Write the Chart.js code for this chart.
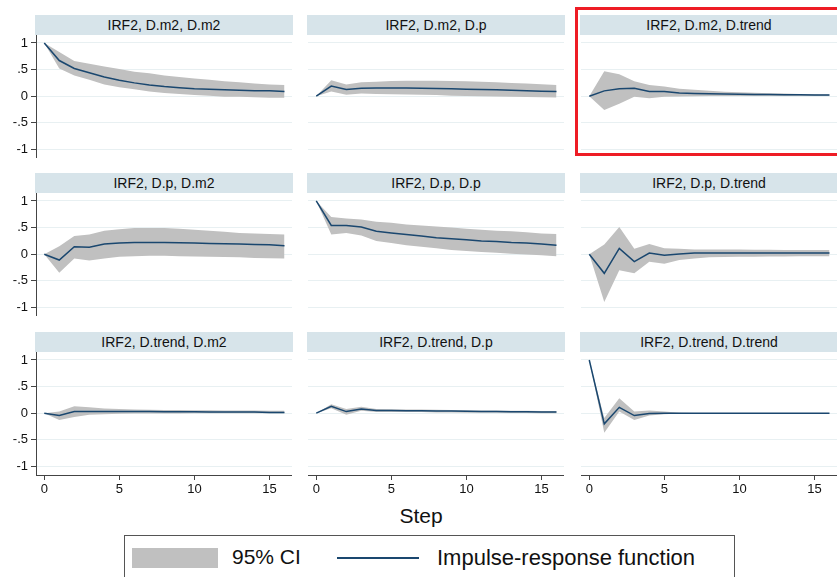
<!DOCTYPE html>
<html>
<head>
<meta charset="utf-8">
<script src="https://cdn.jsdelivr.net/npm/chart.js@4.4.1/dist/chart.umd.min.js"></script>
<style>
  body { margin: 0; width: 837px; height: 577px; overflow: hidden; background: #fff;
         font-family: "Liberation Sans", Arial, sans-serif; color: #111; }
  .panel { position: absolute; }
  .strip { position: absolute; height: 20px; line-height: 20px; background: #d7e4ea;
           text-align: center; font-size: 14px; color: #111; }
  #steplab { position: absolute; left: 0; width: 842px; top: 504px; text-align: center; font-size: 21px; }
  #legend { position: absolute; left: 124px; top: 535px; width: 611px; height: 60px;
            border: 1px solid #555; box-sizing: border-box; }
  #legend .ci { position: absolute; left: 7px; top: 12px; width: 86px; height: 20px; background: #c0c0c0; }
  #legend .t1 { position: absolute; left: 107px; top: 9px; font-size: 21px; }
  #legend .ln { position: absolute; left: 212px; top: 21px; width: 82px; height: 0; border-top: 2px solid #1a476f; }
  #legend .t2 { position: absolute; left: 312px; top: 9px; font-size: 22px; }
  #mark { position: absolute; left: 575px; top: 7px; width: 275px; height: 149px;
          border: 3px solid #ee1c25; box-sizing: border-box; }
</style>
</head>
<body>
<div id="steplab">Step</div>
<div id="legend">
  <div class="ci"></div><div class="t1">95% CI</div>
  <div class="ln"></div><div class="t2">Impulse-response function</div>
</div>
<script>
// horizon steps
const steps = [0, 1, 2, 3, 4, 5, 6, 7, 8, 9, 10, 11, 12, 13, 14, 15, 16];

// impulse D.m2 -> response D.m2
const irf_m2_m2 = [1.00, 0.67, 0.52, 0.44, 0.36, 0.30, 0.25, 0.21, 0.18, 0.16, 0.14, 0.13, 0.12, 0.11, 0.10, 0.10, 0.09];
const hi_m2_m2  = [1.00, 0.83, 0.66, 0.61, 0.56, 0.51, 0.46, 0.43, 0.39, 0.36, 0.33, 0.31, 0.28, 0.26, 0.24, 0.22, 0.21];
const lo_m2_m2  = [1.00, 0.52, 0.39, 0.31, 0.22, 0.17, 0.13, 0.09, 0.06, 0.04, 0.02, 0.01, -0.01, -0.01, -0.02, -0.03, -0.03];

// D.m2 -> D.p
const irf_m2_p = [0, 0.19, 0.125, 0.15, 0.155, 0.155, 0.155, 0.15, 0.145, 0.14, 0.13, 0.125, 0.12, 0.11, 0.10, 0.095, 0.09];
const hi_m2_p  = [0, 0.30, 0.22, 0.26, 0.27, 0.285, 0.29, 0.29, 0.29, 0.285, 0.28, 0.27, 0.26, 0.25, 0.24, 0.225, 0.21];
const lo_m2_p  = [0, 0.09, 0.025, 0.05, 0.04, 0.035, 0.03, 0.025, 0.02, 0.01, 0.005, 0, -0.005, -0.01, -0.015, -0.02, -0.025];

// D.m2 -> D.trend
const irf_m2_tr = [0, 0.10, 0.14, 0.15, 0.09, 0.09, 0.06, 0.05, 0.045, 0.04, 0.035, 0.03, 0.03, 0.025, 0.025, 0.02, 0.02];
const hi_m2_tr  = [0, 0.47, 0.41, 0.28, 0.21, 0.18, 0.14, 0.12, 0.10, 0.085, 0.075, 0.065, 0.055, 0.05, 0.04, 0.035, 0.03];
const lo_m2_tr  = [0, -0.26, -0.14, -0.01, -0.04, -0.01, -0.005, 0, 0.005, 0.005, 0.005, 0.005, 0.005, 0.005, 0.005, 0.005, 0.005];

// D.p -> D.m2
const irf_p_m2 = [0, -0.11, 0.14, 0.13, 0.19, 0.21, 0.22, 0.22, 0.22, 0.215, 0.21, 0.20, 0.195, 0.19, 0.18, 0.175, 0.16];
const hi_p_m2  = [0, 0.15, 0.34, 0.37, 0.44, 0.47, 0.49, 0.49, 0.49, 0.48, 0.46, 0.44, 0.42, 0.40, 0.39, 0.38, 0.37];
const lo_p_m2  = [0, -0.35, -0.08, -0.12, -0.08, -0.05, -0.04, -0.03, -0.03, -0.04, -0.045, -0.05, -0.055, -0.06, -0.07, -0.075, -0.08];

// D.p -> D.p
const irf_p_p = [1.00, 0.54, 0.54, 0.51, 0.43, 0.40, 0.37, 0.34, 0.31, 0.29, 0.27, 0.25, 0.24, 0.22, 0.21, 0.19, 0.17];
const hi_p_p  = [1.00, 0.70, 0.67, 0.65, 0.61, 0.59, 0.56, 0.54, 0.52, 0.50, 0.48, 0.46, 0.44, 0.43, 0.41, 0.39, 0.38];
const lo_p_p  = [1.00, 0.37, 0.40, 0.35, 0.25, 0.21, 0.17, 0.14, 0.11, 0.08, 0.06, 0.04, 0.025, 0.01, -0.005, -0.02, -0.04];

// D.p -> D.trend
const irf_p_tr = [0, -0.36, 0.11, -0.14, 0.02, -0.02, 0.005, 0.02, 0.02, 0.02, 0.02, 0.02, 0.02, 0.02, 0.02, 0.02, 0.02];
const hi_p_tr  = [0, 0.18, 0.51, 0.10, 0.19, 0.11, 0.10, 0.09, 0.09, 0.09, 0.09, 0.085, 0.085, 0.08, 0.08, 0.08, 0.08];
const lo_p_tr  = [0, -0.90, -0.30, -0.36, -0.14, -0.18, -0.11, -0.08, -0.06, -0.055, -0.05, -0.05, -0.045, -0.045, -0.04, -0.04, -0.04];

// D.trend -> D.m2
const irf_tr_m2 = [0, -0.045, 0.03, 0.03, 0.03, 0.03, 0.03, 0.03, 0.025, 0.025, 0.025, 0.02, 0.02, 0.02, 0.02, 0.015, 0.015];
const hi_tr_m2  = [0, 0.03, 0.13, 0.11, 0.09, 0.08, 0.07, 0.065, 0.06, 0.06, 0.055, 0.055, 0.05, 0.05, 0.05, 0.045, 0.045];
const lo_tr_m2  = [0, -0.13, -0.07, -0.03, -0.02, -0.01, -0.005, -0.005, -0.005, -0.005, 0, 0, 0, 0, 0, 0, 0];

// D.trend -> D.p
const irf_tr_p = [0, 0.13, 0.03, 0.08, 0.05, 0.05, 0.045, 0.045, 0.04, 0.04, 0.035, 0.03, 0.03, 0.025, 0.025, 0.02, 0.02];
const hi_tr_p  = [0, 0.17, 0.08, 0.12, 0.08, 0.075, 0.07, 0.07, 0.065, 0.06, 0.055, 0.05, 0.05, 0.045, 0.045, 0.04, 0.04];
const lo_tr_p  = [0, 0.095, -0.03, 0.045, 0.02, 0.02, 0.02, 0.02, 0.015, 0.015, 0.01, 0.01, 0.01, 0.005, 0.005, 0, 0];

// D.trend -> D.trend
const irf_tr_tr = [1.00, -0.20, 0.11, -0.045, -0.005, 0, 0, 0, 0, 0, 0, 0, 0, 0, 0, 0, 0];
const hi_tr_tr  = [1.00, -0.09, 0.28, 0.03, 0.05, 0.03, 0.01, 0.005, 0.004, 0.003, 0.002, 0.002, 0.001, 0.001, 0.001, 0.001, 0.001];
const lo_tr_tr  = [1.00, -0.37, 0.03, -0.13, -0.045, -0.02, -0.005, -0.003, -0.003, -0.002, -0.002, -0.001, -0.001, -0.001, -0.001, -0.001, -0.001];

const yTicks = [-1, -0.5, 0, 0.5, 1];
const yTickLabels = ['-1', '-.5', '0', '.5', '1'];
const xTicks = [0, 5, 10, 15];

const panels = [
  { title: 'IRF2, D.m2, D.m2', irf: irf_m2_m2, hi: hi_m2_m2, lo: lo_m2_m2 },
  { title: 'IRF2, D.m2, D.p', irf: irf_m2_p, hi: hi_m2_p, lo: lo_m2_p },
  { title: 'IRF2, D.m2, D.trend', irf: irf_m2_tr, hi: hi_m2_tr, lo: lo_m2_tr },
  { title: 'IRF2, D.p, D.m2', irf: irf_p_m2, hi: hi_p_m2, lo: lo_p_m2 },
  { title: 'IRF2, D.p, D.p', irf: irf_p_p, hi: hi_p_p, lo: lo_p_p },
  { title: 'IRF2, D.p, D.trend', irf: irf_p_tr, hi: hi_p_tr, lo: lo_p_tr },
  { title: 'IRF2, D.trend, D.m2', irf: irf_tr_m2, hi: hi_tr_m2, lo: lo_tr_m2 },
  { title: 'IRF2, D.trend, D.p', irf: irf_tr_p, hi: hi_tr_p, lo: lo_tr_p },
  { title: 'IRF2, D.trend, D.trend', irf: irf_tr_tr, hi: hi_tr_tr, lo: lo_tr_tr }
];

// grid geometry (px)
const colLeft = [36, 308, 581];
const rowTop = [15, 173, 332];
const plotW = 256, plotH = 123, stripH = 20;
const axisW = 36, axisH = 28;

const pts = arr => arr.map((v, i) => ({ x: steps[i], y: v }));

panels.forEach((p, k) => {
  const r = Math.floor(k / 3), c = k % 3;
  const left = c === 0, bottom = r === 2;

  const strip = document.createElement('div');
  strip.className = 'strip';
  strip.style.left = (colLeft[c] - 1) + 'px';
  strip.style.top = rowTop[r] + 'px';
  strip.style.width = (plotW + 2) + 'px';
  strip.textContent = p.title;
  document.body.appendChild(strip);

  const cv = document.createElement('canvas');
  cv.className = 'panel';
  const w = plotW + (left ? axisW : 0);
  const h = plotH + (bottom ? axisH : 0);
  cv.width = w; cv.height = h;
  cv.style.left = (colLeft[c] - (left ? axisW : 0)) + 'px';
  cv.style.top = (rowTop[r] + stripH) + 'px';
  document.body.appendChild(cv);

  new Chart(cv.getContext('2d'), {
    type: 'line',
    data: {
      datasets: [
        { data: pts(p.hi), borderWidth: 0, pointRadius: 0, fill: '+1', backgroundColor: '#c0c0c0' },
        { data: pts(p.lo), borderWidth: 0, pointRadius: 0, fill: false },
        { data: pts(p.irf), borderColor: '#1a476f', borderWidth: 1.5, pointRadius: 0, fill: false }
      ]
    },
    options: {
      responsive: false,
      animation: false,
      layout: { padding: 0 },
      elements: { line: { tension: 0 } },
      plugins: {
        legend: { display: false },
        tooltip: { enabled: false },
        filler: { drawTime: 'beforeDatasetsDraw' }
      },
      scales: {
        x: {
          type: 'linear', min: -0.55, max: 16.5,
          afterBuildTicks: s => { s.ticks = xTicks.map(v => ({ value: v })); },
          afterFit: s => { s.height = bottom ? axisH : 0; s.paddingLeft = 0; s.paddingRight = 0; },
          grid: { display: bottom, drawOnChartArea: false, drawTicks: true, tickLength: 5, tickColor: '#444' },
          border: { display: bottom, color: '#444' },
          ticks: { display: bottom, padding: 2, color: '#111', maxRotation: 0,
                   font: { family: 'Liberation Sans', size: 13 } }
        },
        y: {
          min: -1.162, max: 1.15,
          afterBuildTicks: s => { s.ticks = yTicks.map(v => ({ value: v })); },
          afterFit: s => { s.width = left ? axisW : 0; s.paddingTop = 0; s.paddingBottom = 0; },
          grid: { color: '#e8f0f2', drawTicks: left, tickLength: 5, tickColor: '#444' },
          border: { display: left, color: '#444' },
          ticks: { display: left, padding: 3, color: '#111',
                   callback: v => yTickLabels[yTicks.indexOf(v)],
                   font: { family: 'Liberation Sans', size: 13 } }
        }
      }
    }
  });
});
</script>
<div id="mark"></div>
</body>
</html>
